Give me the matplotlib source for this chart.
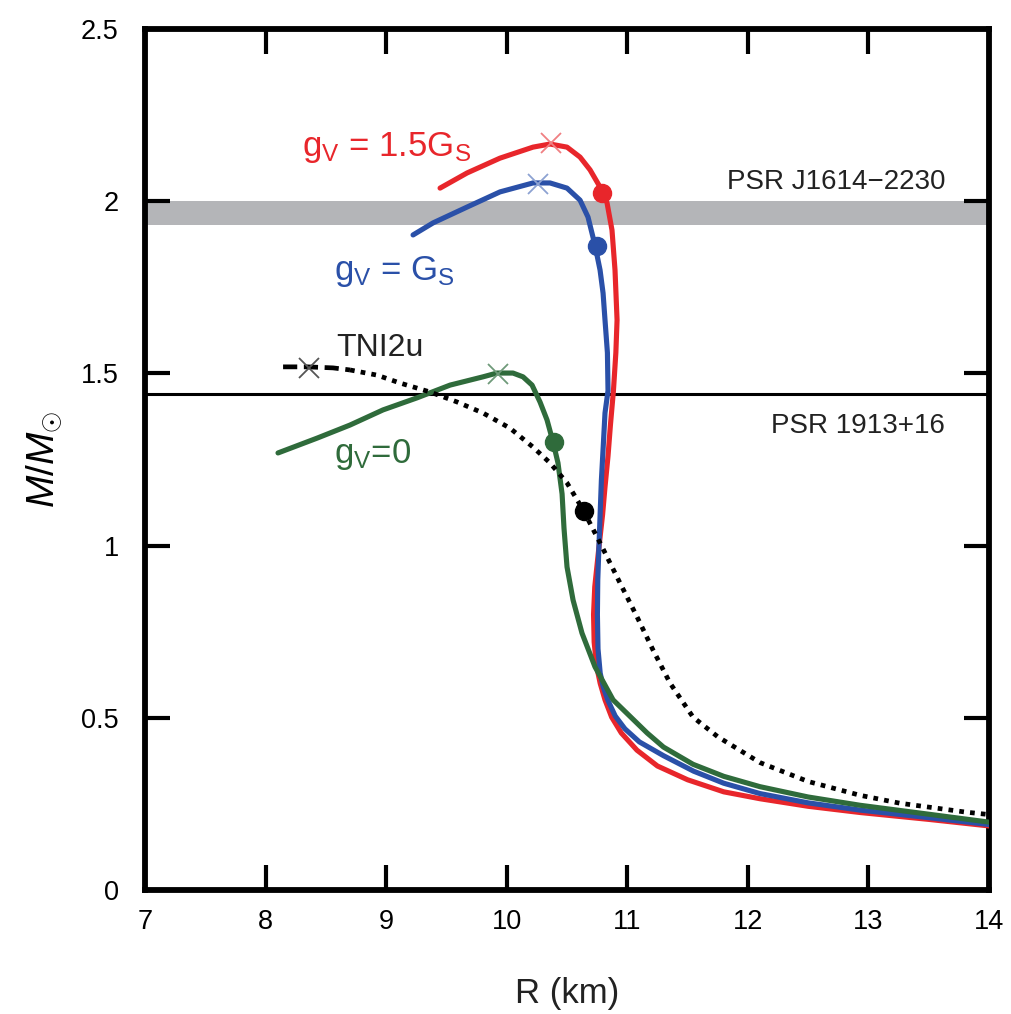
import matplotlib
matplotlib.use("Agg")
import matplotlib.pyplot as plt

plt.rcParams['font.family'] = ['Liberation Sans', 'DejaVu Sans']
plt.rcParams['mathtext.fontset'] = 'custom'
plt.rcParams['mathtext.rm'] = 'Liberation Sans'
plt.rcParams['mathtext.it'] = 'Liberation Sans:italic'
plt.rcParams['mathtext.bf'] = 'Liberation Sans:bold'

# ---------------- data ----------------
red_R = [9.447, 9.671, 9.944, 10.218, 10.359, 10.500, 10.608, 10.691, 10.774, 10.832,
         10.873, 10.898, 10.915, 10.905, 10.885, 10.86, 10.84, 10.815, 10.795, 10.76,
         10.73, 10.72, 10.725, 10.745, 10.775, 10.815, 10.87, 10.95, 11.08, 11.25,
         11.50, 11.80, 12.10, 12.50, 12.93, 13.50, 14.00]
red_M = [2.038, 2.082, 2.125, 2.157, 2.166, 2.157, 2.128, 2.091, 2.041, 1.995,
         1.916, 1.800, 1.655, 1.56, 1.45, 1.35, 1.26, 1.17, 1.09, 0.98,
         0.88, 0.80, 0.72, 0.65, 0.60, 0.552, 0.502, 0.456, 0.406, 0.36,
         0.32, 0.285, 0.265, 0.243, 0.225, 0.205, 0.186]

blue_R = [9.223, 9.389, 9.671, 9.944, 10.218, 10.359, 10.500, 10.608, 10.674, 10.732,
          10.774, 10.799, 10.815, 10.835, 10.84, 10.815, 10.80, 10.785, 10.775, 10.765,
          10.755, 10.752, 10.757, 10.775, 10.80, 10.84, 10.90, 10.98, 11.10, 11.30,
          11.55, 11.80, 12.10, 12.50, 12.93, 13.50, 14.00]
blue_M = [1.902, 1.937, 1.983, 2.027, 2.053, 2.053, 2.038, 2.003, 1.954, 1.872,
          1.800, 1.733, 1.655, 1.56, 1.45, 1.385, 1.286, 1.19, 1.095, 1.00,
          0.90, 0.80, 0.70, 0.63, 0.59, 0.55, 0.505, 0.468, 0.43, 0.39,
          0.345, 0.31, 0.28, 0.253, 0.232, 0.21, 0.19]

green_R = [8.103, 8.427, 8.700, 8.974, 9.256, 9.530, 9.803, 9.919, 10.052, 10.135,
           10.210, 10.276, 10.334, 10.384, 10.425, 10.459, 10.475, 10.50, 10.55, 10.624,
           10.732, 10.882, 11.164, 11.30, 11.545, 11.80, 12.10, 12.50, 12.93, 13.50, 14.00]
green_M = [1.269, 1.312, 1.350, 1.394, 1.429, 1.466, 1.490, 1.501, 1.501, 1.490,
           1.466, 1.417, 1.365, 1.301, 1.240, 1.150, 1.05, 0.938, 0.842, 0.746,
           0.648, 0.552, 0.456, 0.415, 0.365, 0.33, 0.30, 0.27, 0.246, 0.22, 0.197]

tni_R = [8.145, 8.344, 8.559, 8.700, 8.924, 9.115, 9.364, 9.588, 9.803, 10.027,
         10.218, 10.359, 10.500, 10.633, 10.774, 10.940, 11.081, 11.213, 11.354, 11.545,
         11.75, 12.10, 12.50, 12.93, 13.26, 13.81, 14.00]
tni_M = [1.519, 1.519, 1.516, 1.510, 1.495, 1.472, 1.446, 1.417, 1.385, 1.341,
         1.286, 1.240, 1.182, 1.104, 1.008, 0.891, 0.793, 0.697, 0.601, 0.502,
         0.445, 0.37, 0.315, 0.275, 0.252, 0.226, 0.219]

# maximum-mass crosses and marked points
cross_R = {'red': 10.37, 'blue': 10.26, 'green': 9.93, 'black': 8.36}
cross_M = {'red': 2.168, 'blue': 2.05, 'green': 1.497, 'black': 1.517}
dot_R = {'red': 10.79, 'blue': 10.75, 'green': 10.39, 'black': 10.64}
dot_M = {'red': 2.023, 'blue': 1.87, 'green': 1.30, 'black': 1.10}

band_lo, band_hi = 1.93, 2.0      # PSR J1614-2230
psr1913 = 1.44                      # PSR 1913+16

xticks = [7, 8, 9, 10, 11, 12, 13, 14]
yticks = [0, 0.5, 1, 1.5, 2, 2.5]
ytick_labels = ['0', '0.5', '1', '1.5', '2', '2.5']

# ---------------- style ----------------
c_red, c_blue, c_green, c_black = '#e8262b', '#2a50a8', '#2f6b3b', '#000000'
x_col = {'red': '#f07f82', 'blue': '#8da2d2', 'green': '#6f9a7a', 'black': '#555555'}
c_main = {'red': c_red, 'blue': c_blue, 'green': c_green, 'black': c_black}

fig = plt.figure(figsize=(10.12, 10.14), dpi=100)
ax = fig.add_axes([0.1433, 0.1223, 0.9773 - 0.1433, 0.9714 - 0.1223])

ax.axhspan(band_lo, band_hi, color='#b4b5b8', lw=0, zorder=1)
ax.axhline(psr1913, color='black', lw=2.2, zorder=2)

kw = dict(lw=3.7, solid_capstyle='round', solid_joinstyle='round')
ax.plot(red_R, red_M, color=c_red, zorder=3, **kw)
ax.plot(blue_R, blue_M, color=c_blue, zorder=4, **kw)
ax.plot(green_R, green_M, color=c_green, zorder=5, **kw)

n_dash = 4
ax.plot(tni_R[:n_dash], tni_M[:n_dash], color='black', lw=3.4, dashes=(3, 1.4), zorder=6)
ax.plot(tni_R[n_dash - 1:], tni_M[n_dash - 1:], color='black', lw=3.4, dashes=(1, 1.3), zorder=6)

for k in ['red', 'blue', 'green', 'black']:
    ax.plot([cross_R[k]], [cross_M[k]], marker='x', ms=14, mew=1.3, color=x_col[k], ls='none', zorder=7)
    ax.plot([dot_R[k]], [dot_M[k]], marker='o', ms=13, color=c_main[k], mec=c_main[k], ls='none', zorder=8)

# texts
ax.text(8.30, 2.13, r'g$_\mathrm{V}$ = 1.5G$_\mathrm{S}$', color=c_red, fontsize=25, va='baseline', ha='left')
ax.text(8.57, 1.771, r'g$_\mathrm{V}$ = G$_\mathrm{S}$', color=c_blue, fontsize=25, va='baseline', ha='left')
ax.text(8.59, 1.55, 'TNI2u', color='#222222', fontsize=23, va='baseline', ha='left')
ax.text(8.57, 1.24, r'g$_\mathrm{V}$=0', color=c_green, fontsize=25, va='baseline', ha='left')
ax.text(13.635, 2.035, 'PSR J1614\u22122230', color='#222222', fontsize=20, va='baseline', ha='right')
ax.text(13.635, 1.327, 'PSR 1913+16', color='#222222', fontsize=20, va='baseline', ha='right')

ax.set_xlim(7, 14)
ax.set_ylim(0, 2.5)
ax.set_xticks(xticks)
ax.set_yticks(yticks)
ax.set_yticklabels(ytick_labels)
ax.tick_params(direction='in', length=18, width=3, top=True, right=True,
               labelsize=19.5, colors='black')
ax.tick_params(axis='x', pad=14)
ax.tick_params(axis='y', pad=19)
for s in ax.spines.values():
    s.set_linewidth(4.2)

ax.set_xlabel('R (km)', fontsize=25, labelpad=30, color='#222222')
ax.set_ylabel(r'$M$/$M_{\odot}$', fontsize=28, labelpad=12, color='black')

fig.savefig('out.png', dpi=100)
